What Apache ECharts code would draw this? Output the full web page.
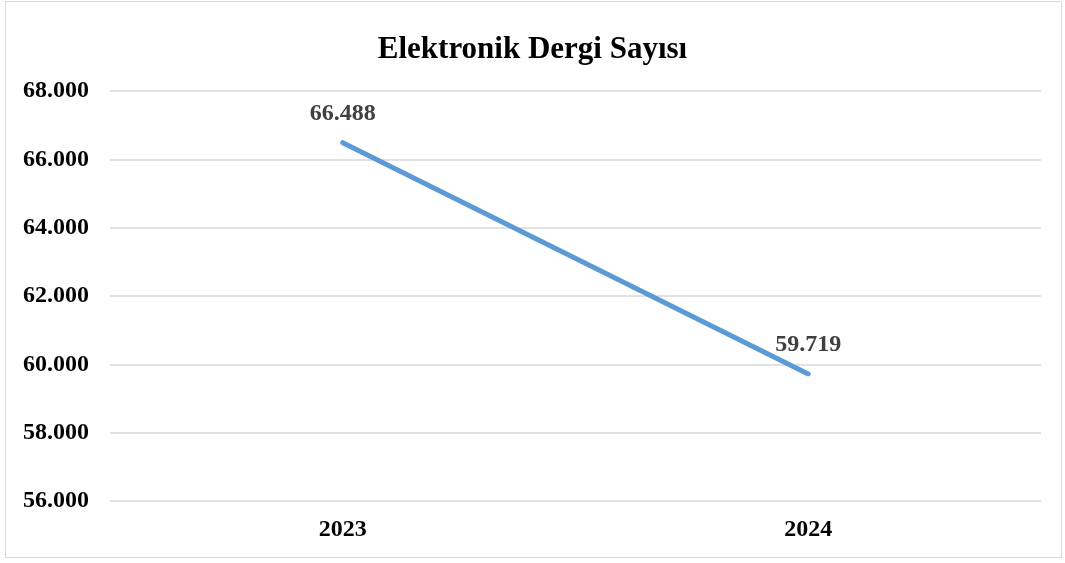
<!DOCTYPE html>
<html>
<head>
<meta charset="utf-8">
<script src="https://cdn.jsdelivr.net/npm/echarts@6/dist/echarts.min.js"></script>
<style>
html,body{margin:0;padding:0;background:#fff;}
#frame{position:absolute;left:5px;top:1px;width:1057px;height:557px;border:1.5px solid #d9d9d9;box-sizing:border-box;}
#chart{position:absolute;left:0;top:0;width:1065px;height:563px;}
</style>
</head>
<body>
<div id="frame"></div>
<div id="chart"></div>
<script>
const titleText = "Elektronik Dergi Sayısı";
const categories = ["2023", "2024"];
const values = [66488, 59719];
const yMin = 56000, yMax = 68000, yStep = 2000;

function fmt(v){
  return String(Math.round(v)).replace(/\B(?=(\d{3})+(?!\d))/g, ".");
}

const serif = "'Liberation Serif', 'Times New Roman', serif";
const chart = echarts.init(document.getElementById('chart'), null, {renderer:'canvas'});
chart.setOption({
  backgroundColor: 'transparent',
  animation: false,
  title: {
    text: titleText,
    left: 'center',
    top: 29,
    textStyle: {fontFamily: serif, fontWeight: 'bold', fontSize: 31, color: '#000'}
  },
  grid: {left: 110, right: 24, top: 91, bottom: 62, containLabel: false},
  xAxis: {
    type: 'category',
    data: categories,
    boundaryGap: true,
    axisLine: {show: false},
    axisTick: {show: false},
    axisLabel: {fontFamily: serif, fontWeight: 'bold', fontSize: 24, color: '#000', margin: 17}
  },
  yAxis: {
    type: 'value',
    min: yMin, max: yMax, interval: yStep,
    axisLine: {show: false},
    axisTick: {show: false},
    splitLine: {lineStyle: {color: '#d9d9d9', width: 1.5}},
    axisLabel: {fontFamily: serif, fontWeight: 'bold', fontSize: 24, color: '#000', margin: 21, formatter: fmt}
  },
  series: [{
    type: 'line',
    data: values,
    showSymbol: true,
    symbol: 'circle',
    symbolSize: 2,
    itemStyle: {color: '#5B9BD5'},
    lineStyle: {color: '#5B9BD5', width: 5, cap: 'round'},
    label: {
      show: true, position: 'top', distance: 16,
      fontFamily: serif, fontWeight: 'bold', fontSize: 24, color: '#404040',
      formatter: function (p) { return fmt(p.value); }
    }
  }]
});
</script>
</body>
</html>
